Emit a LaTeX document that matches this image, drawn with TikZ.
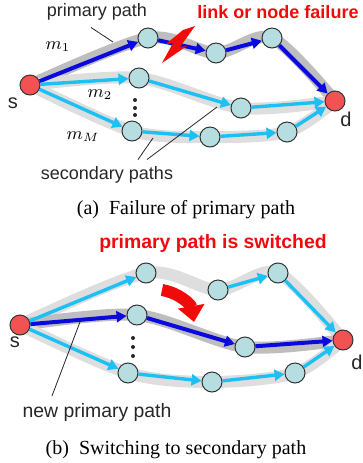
\documentclass[tikz,border=0pt]{standalone}
\usepackage{fontspec}
\setmainfont{Liberation Serif}
\setsansfont{Liberation Sans}
\usetikzlibrary{arrows.meta,backgrounds}
\definecolor{primblue}{HTML}{0A0AE0}
\definecolor{secblue}{HTML}{1CC0F4}
\definecolor{relayfill}{HTML}{B6DEE0}
\definecolor{endfill}{HTML}{F25252}
\definecolor{halodark}{HTML}{BEBEBE}
\definecolor{halolight}{HTML}{DEDEDE}
\definecolor{alertred}{HTML}{F00A0A}

\begin{document}
\begin{tikzpicture}[
  x=0.5pt, y=-0.5pt,
  relay/.style={circle, draw=black!80, line width=0.5pt, fill=relayfill, minimum size=10pt, inner sep=0pt},
  endpt/.style={relay, fill=endfill},
  primarr/.style={->, primblue, line width=2pt},
  secarr/.style={->, secblue, line width=1.7pt},
  primhalo/.style={halodark, line width=6pt, line cap=round},
  sechalo/.style={halolight, line width=6pt, line cap=round},
  lbl/.style={font=\sffamily\fontsize{9}{10}\selectfont, text=black!85},
  lblb/.style={font=\sffamily\fontsize{9.7}{11}\selectfont, text=black!85},
  alert/.style={font=\sffamily\bfseries\fontsize{9}{10}\selectfont, text=alertred},
  callout/.style={black!85, line width=0.4pt},
  capt/.style={font=\fontsize{10}{12}\selectfont},
  >={Triangle[length=5pt,width=5.5pt]}
]
\useasboundingbox (0,0) rectangle (363,463);

% (a) failure of primary path
\node[endpt] (a-s) at (30,85) {};
\node[endpt] (a-d) at (335,101) {};
\foreach \n/\x/\y in {t1/148/38, t2/216/53, t3/272/38, m1/139/78, m2/241/108, b1/132/131, b2/210/137, b3/287/132}
  \node[relay] (a-\n) at (\x,\y) {};

\begin{scope}[on background layer]
\draw[primhalo] plot[smooth] coordinates {(a-s) (a-t1) (a-t2) (a-t3) (a-d)};
\draw[sechalo] plot[smooth] coordinates {(a-s) (a-m1) (a-m2) (a-d)};
\draw[sechalo] plot[smooth] coordinates {(a-s) (a-b1) (a-b2) (a-b3) (a-d)};
\end{scope}

\foreach \u/\v in {s/t1, t1/t2, t2/t3, t3/d}
  \draw[primarr] (a-\u) -- (a-\v);
\foreach \u/\v in {s/m1, m1/m2, m2/d, s/b1, b1/b2, b2/b3, b3/d}
  \draw[secarr] (a-\u) -- (a-\v);

\fill[alertred] (195,26) -- (180,47) -- (187,46) -- (162,63) -- (173,43) -- (166,44) -- (183,30) -- cycle;
\foreach \y in {100,108,115}
  \fill[black!85] (135,\y) circle (1pt);

\node[lbl, font=\sffamily\fontsize{10}{12}\selectfont] (a-slbl) at (13,103) {s};
\node[lbl, font=\sffamily\fontsize{10}{12}\selectfont] (a-dlbl) at (346,119) {d};
\node[font=\fontsize{9}{10}\selectfont] (a-m1lbl) at (58,47) {$m_1$};
\node[font=\fontsize{9}{10}\selectfont] (a-m2lbl) at (100,95) {$m_2$};
\node[font=\fontsize{9}{10}\selectfont] (a-mMlbl) at (83,137) {$m_M$};

\node[lbl] (a-pplbl) at (97,12) {primary path};
\coordinate (a-pptip) at (113,42);
\draw[callout] ([xshift=-3pt]a-pplbl.south) -- (a-pptip);
\node[alert] (a-fail) at (278,12) {link or node failure};

\node[lbl] (a-seclbl) at (107,175) {secondary paths};
\coordinate (a-sectip1) at (153,138);
\coordinate (a-sectip2) at (217,107);
\draw[callout] ([xshift=15.5pt]a-seclbl.north) -- (a-sectip1);
\draw[callout] ([xshift=20pt]a-seclbl.north) -- (a-sectip2);

\node[capt] (a-capt) at (186,210) {(a)\enspace Failure of primary path};

% (b) switching to secondary path
\node[endpt] (b-s) at (20,325) {};
\node[endpt] (b-d) at (343,340) {};
\foreach \n/\x/\y in {t1/146/273, t2/218/290, t3/278/273, m1/137/315, m2/245/347, b1/128/373, b2/212/382, b3/295/373}
  \node[relay] (b-\n) at (\x,\y) {};

\begin{scope}[on background layer]
\draw[sechalo] plot[smooth] coordinates {(b-s) (b-t1) (b-t2) (b-t3) (b-d)};
\draw[primhalo] plot[smooth] coordinates {(b-s) (b-m1) (b-m2) (b-d)};
\draw[sechalo] plot[smooth] coordinates {(b-s) (b-b1) (b-b2) (b-b3) (b-d)};
\end{scope}

\foreach \u/\v in {s/m1, m1/m2, m2/d}
  \draw[primarr] (b-\u) -- (b-\v);
\foreach \u/\v in {s/t1, t2/t3, t3/d, s/b1, b1/b2, b2/b3, b3/d}
  \draw[secarr] (b-\u) -- (b-\v);

\draw[alertred, line width=6pt, -{Triangle[length=8pt,width=13pt]}] (162,290) to[bend left=35] (194,322);
\foreach \y in {338,347,356}
  \fill[black!85] (133,\y) circle (1pt);

\node[lblb, font=\sffamily\fontsize{10}{12}\selectfont] (b-slbl) at (15,342) {s};
\node[lblb, font=\sffamily\fontsize{10}{12}\selectfont] (b-dlbl) at (357,362) {d};

\node[alert, font=\sffamily\bfseries\fontsize{9.7}{11}\selectfont] (b-switch) at (213,243) {primary path is switched};

\node[lblb] (b-nplbl) at (97,412) {new primary path};
\coordinate (b-nptip) at (80,322);
\draw[callout] ([xshift=-22.5pt]b-nplbl.north) -- (b-nptip);

\node[capt] (b-capt) at (176,450) {(b)\enspace Switching to secondary path};
\end{tikzpicture}
\end{document}
